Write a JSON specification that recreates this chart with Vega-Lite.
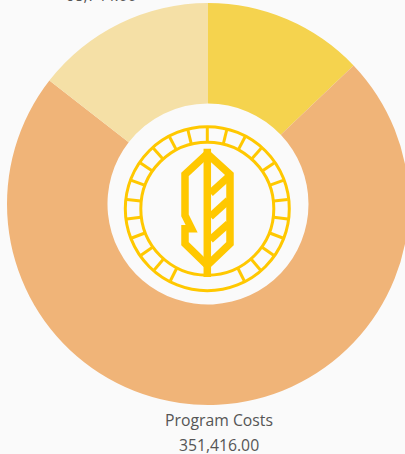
{
"$schema":"https://vega.github.io/schema/vega-lite/v6.json",
"width":405,"height":454,"padding":0,"autosize":{"type":"none"},
"background":"#fafafa",
"config":{"view":{"stroke":null}},
"datasets":{
"slices":[{"name":"Slice A","value":62350,"rank":1},{"name":"Program Costs","value":351416,"rank":2},{"name":"Slice C","value":70014,"rank":3}],
"labels":[{"dx":11.7,"dy":-212.3,"text":"Program Costs"},{"dx":11.7,"dy":-237.3,"text":"351,416.00"},{"dx":-106.3,"dy":212.7,"text":"68,744.00"}],
"circles":[{"dx":0,"dy":0,"d":164},{"dx":0,"dy":0,"d":133}],
"lines":[
{"seg":"L","o":1,"dx":0,"dy":55},{"seg":"L","o":2,"dx":-22.3,"dy":34.3},{"seg":"L","o":3,"dx":-22.3,"dy":-6.7},{"seg":"L","o":4,"dx":-15.7,"dy":-20},{"seg":"L","o":5,"dx":-22.3,"dy":-20},{"seg":"L","o":6,"dx":-22.3,"dy":-35},{"seg":"L","o":7,"dx":0,"dy":-56.7},
{"seg":"R","o":1,"dx":0,"dy":55},{"seg":"R","o":2,"dx":22.7,"dy":34.3},{"seg":"R","o":3,"dx":22.7,"dy":-35},{"seg":"R","o":4,"dx":0,"dy":-56.7},
{"seg":"S","o":1,"dx":0,"dy":60},{"seg":"S","o":2,"dx":0,"dy":-68.3},
{"seg":"D1","o":1,"dx":3,"dy":15.5},{"seg":"D1","o":2,"dx":21,"dy":31.7},
{"seg":"D2","o":1,"dx":3,"dy":-8},{"seg":"D2","o":2,"dx":21,"dy":8.3},
{"seg":"D3","o":1,"dx":3,"dy":-31},{"seg":"D3","o":2,"dx":21,"dy":-15}
],
"spokes":[
{"seg":"s0","o":1,"dx":0,"dy":67},{"seg":"s0","o":2,"dx":0,"dy":81},
{"seg":"s1","o":1,"dx":16.1,"dy":65.1},{"seg":"s1","o":2,"dx":19.4,"dy":78.7},
{"seg":"s2","o":1,"dx":31.2,"dy":59.3},{"seg":"s2","o":2,"dx":37.7,"dy":71.7},
{"seg":"s3","o":1,"dx":44.6,"dy":50},{"seg":"s3","o":2,"dx":53.9,"dy":60.5},
{"seg":"s4","o":1,"dx":55.3,"dy":37.9},{"seg":"s4","o":2,"dx":66.8,"dy":45.8},
{"seg":"s5","o":1,"dx":62.8,"dy":23.5},{"seg":"s5","o":2,"dx":75.9,"dy":28.4},
{"seg":"s6","o":1,"dx":66.5,"dy":7.7},{"seg":"s6","o":2,"dx":80.4,"dy":9.3},
{"seg":"s7","o":1,"dx":66.5,"dy":-8.5},{"seg":"s7","o":2,"dx":80.4,"dy":-10.3},
{"seg":"s8","o":1,"dx":62.4,"dy":-24.3},{"seg":"s8","o":2,"dx":75.5,"dy":-29.3},
{"seg":"s9","o":1,"dx":54.8,"dy":-38.5},{"seg":"s9","o":2,"dx":66.3,"dy":-46.6},
{"seg":"s10","o":1,"dx":44,"dy":-50.6},{"seg":"s10","o":2,"dx":53.1,"dy":-61.2},
{"seg":"s11","o":1,"dx":30.6,"dy":-59.6},{"seg":"s11","o":2,"dx":36.9,"dy":-72.1},
{"seg":"t1","o":1,"dx":-16.1,"dy":65.1},{"seg":"t1","o":2,"dx":-19.4,"dy":78.7},
{"seg":"t2","o":1,"dx":-31.2,"dy":59.3},{"seg":"t2","o":2,"dx":-37.7,"dy":71.7},
{"seg":"t3","o":1,"dx":-44.6,"dy":50},{"seg":"t3","o":2,"dx":-53.9,"dy":60.5},
{"seg":"t4","o":1,"dx":-55.3,"dy":37.9},{"seg":"t4","o":2,"dx":-66.8,"dy":45.8},
{"seg":"t5","o":1,"dx":-62.8,"dy":23.5},{"seg":"t5","o":2,"dx":-75.9,"dy":28.4},
{"seg":"t6","o":1,"dx":-66.5,"dy":7.7},{"seg":"t6","o":2,"dx":-80.4,"dy":9.3},
{"seg":"t7","o":1,"dx":-66.5,"dy":-8.5},{"seg":"t7","o":2,"dx":-80.4,"dy":-10.3},
{"seg":"t8","o":1,"dx":-62.4,"dy":-24.3},{"seg":"t8","o":2,"dx":-75.5,"dy":-29.3},
{"seg":"t9","o":1,"dx":-54.8,"dy":-38.5},{"seg":"t9","o":2,"dx":-66.3,"dy":-46.6},
{"seg":"t10","o":1,"dx":-44,"dy":-50.6},{"seg":"t10","o":2,"dx":-53.1,"dy":-61.2},
{"seg":"t11","o":1,"dx":-30.6,"dy":-59.6},{"seg":"t11","o":2,"dx":-36.9,"dy":-72.1}
]
},
"layer":[
{"data":{"name":"slices"},
 "mark":{"type":"arc","innerRadius":100.5,"outerRadius":201,"clip":false},
 "encoding":{
  "theta":{"field":"value","type":"quantitative","stack":true},
  "order":{"field":"rank","type":"ordinal"},
  "color":{"field":"name","type":"nominal","legend":null,"scale":{"domain":["Slice A","Program Costs","Slice C"],"range":["#f5d34e","#f0b478","#f5e0a6"]}},
  "x":{"datum":0.7,"type":"quantitative","scale":{"domain":[-207.3,197.7],"nice":false,"zero":false},"axis":null},
  "y":{"datum":4.7,"type":"quantitative","scale":{"domain":[-245.3,208.7],"nice":false,"zero":false},"axis":null}
 }},
{"data":{"name":"circles"},
 "mark":{"type":"point","shape":"circle","filled":false,"stroke":"#ffc800","strokeWidth":3,"opacity":1},
 "encoding":{
  "x":{"field":"dx","type":"quantitative","axis":null},
  "y":{"field":"dy","type":"quantitative","axis":null},
  "size":{"field":"d","type":"quantitative","legend":null,"scale":{"type":"pow","exponent":2,"domain":[133,164],"range":[17689,26896]}}
 }},
{"data":{"name":"spokes"},
 "mark":{"type":"line","stroke":"#ffc800","strokeWidth":3},
 "encoding":{
  "x":{"field":"dx","type":"quantitative","axis":null},
  "y":{"field":"dy","type":"quantitative","axis":null},
  "detail":{"field":"seg"},"order":{"field":"o","type":"quantitative"}
 }},
{"data":{"name":"lines"},
 "mark":{"type":"line","stroke":"#ffc800","strokeWidth":7.5,"strokeJoin":"miter","strokeCap":"butt"},
 "encoding":{
  "x":{"field":"dx","type":"quantitative","axis":null},
  "y":{"field":"dy","type":"quantitative","axis":null},
  "detail":{"field":"seg"},"order":{"field":"o","type":"quantitative"}
 }},
{"data":{"name":"labels"},
 "mark":{"type":"text","font":"Open Sans","fontSize":15.75,"fill":"#555555","align":"center","baseline":"middle"},
 "encoding":{
  "x":{"field":"dx","type":"quantitative","axis":null},
  "y":{"field":"dy","type":"quantitative","axis":null},
  "text":{"field":"text"}
 }}
]
}
